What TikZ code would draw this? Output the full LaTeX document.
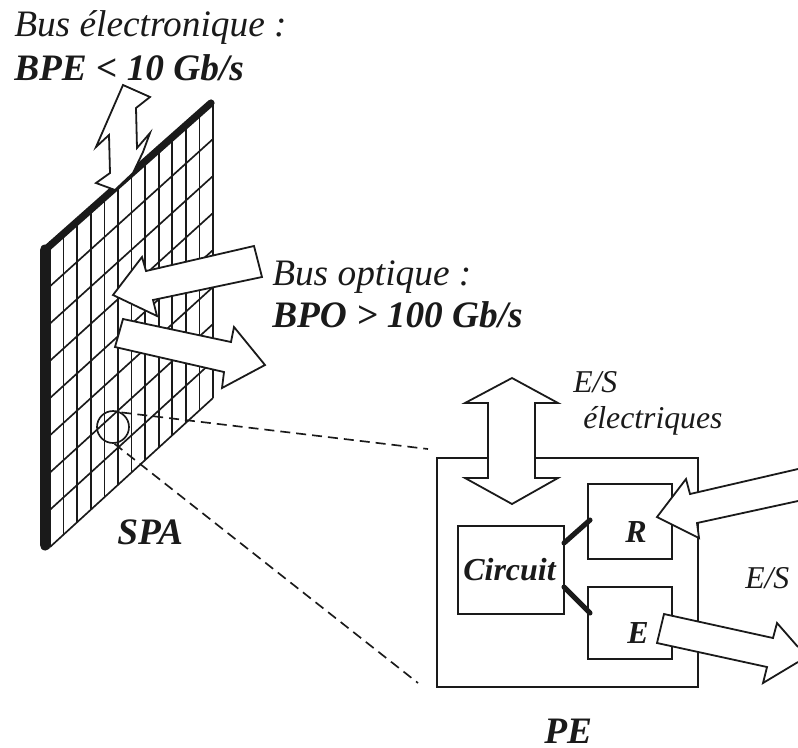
\documentclass[tikz,border=0pt]{standalone}
\usepackage{fontspec}
\setmainfont{Liberation Serif}
\definecolor{ink}{HTML}{1A1A1A}
\newcommand{\pxu}{0.75pt}
\tikzset{
  x=0.75pt,y=-0.75pt,
  every path/.style={color=ink},
  grid line/.style={draw=ink,line width=1.25pt},
  block/.style={draw=ink,line width=1.35pt,fill=white,inner sep=0pt},
  fat arrow/.style={draw=ink,line width=1.35pt,fill=white,line join=miter},
  link/.style={draw=ink,line width=3.8pt,line cap=round},
  zoom line/.style={draw=ink,line width=1.25pt,dash pattern=on 7.5pt off 4.5pt},
  lab/.style={inner sep=0pt,anchor=base west,text=ink,font=\fontsize{28}{28}\selectfont\itshape},
  blab/.style={inner sep=0pt,anchor=base west,text=ink,font=\fontsize{28}{28}\selectfont\itshape\bfseries},
  small lab/.style={inner sep=0pt,anchor=base west,text=ink,font=\fontsize{23.8}{24}\selectfont\itshape},
  small blab/.style={inner sep=0pt,anchor=base west,text=ink,font=\fontsize{24}{24}\selectfont\itshape\bfseries},
}
\begin{document}
\begin{tikzpicture}
\useasboundingbox (0,0) rectangle (798,747);
% SPA panel grid
\foreach \i in {0,...,12}{
  \pgfmathsetmacro{\xx}{50+\i*163/12}
  \pgfmathsetmacro{\yt}{241-\i*139/12}
  \pgfmathsetmacro{\yb}{547-\i*149/12}
  \draw[grid line] (\xx,\yt) -- (\xx,\yb);
}
\foreach \i in {1,...,8}{
  \pgfmathsetmacro{\yl}{249+\i*37.25}
  \pgfmathsetmacro{\yr}{102+\i*37}
  \draw[grid line] (50,\yl) -- (213,\yr);
}
\draw[draw=ink,line width=5.4pt,line cap=round,line join=round] (211,103) -- (45,250);
\draw[draw=ink,line width=8.25pt,line cap=round] (45,250) -- (45,545);
% zoom circle and PE block
\node[circle,draw=ink,line width=1.25pt,minimum size=32*\pxu,inner sep=0pt] (spot) at (113,427) {};
\node[block,minimum width=261*\pxu,minimum height=229*\pxu] (pe) at (567.5,572.5) {};
\coordinate (dashA) at (428,449);
\coordinate (dashB) at (418,683);
\draw[zoom line] (spot.60) -- (dashA);
\draw[zoom line] (spot.-85) -- (dashB);
% inner blocks
\node[block,minimum width=84*\pxu,minimum height=75*\pxu] (R) at (630,521.5) {};
\node[block,minimum width=84*\pxu,minimum height=72*\pxu] (E) at (630,623) {};
\node[block,minimum width=106*\pxu,minimum height=88*\pxu] (C) at (511,570) {};
\coordinate (cu) at (564,543);
\coordinate (cd) at (564,587);
\coordinate (ru) at (590,520);
\coordinate (ed) at (590,613);
\draw[link] (cu) -- (ru);
\draw[link] (cd) -- (ed);
% fat arrows
\draw[fat arrow] (123,85) -- (150,97) -- (136,108) -- (137,148) -- (150,133) -- (143,152) -- (133,173) -- (115,190) -- (96,183) -- (110,173) -- (109,135) -- (96,147) -- cycle;
\draw[fat arrow] (113,295) -- (142,257) -- (146,271) -- (254,246) -- (262,277) -- (153,300) -- (157,316) -- cycle;
\draw[fat arrow] (123,319) -- (231,342) -- (234,327) -- (265,365) -- (222,388) -- (224,372) -- (115,347) -- cycle;
\draw[fat arrow] (512,378) -- (558,403) -- (535,403) -- (535,478) -- (558,478) -- (512,504) -- (465,478) -- (488,478) -- (488,403) -- (465,403) -- cycle;
\draw[fat arrow] (798,469) -- (690,494) -- (686,479) -- (657,517) -- (699,538) -- (697,523) -- (798,501);
\draw[fat arrow] (798,647) -- (777,623) -- (773,638) -- (664,614) -- (657,643) -- (767,667) -- (763,683) -- (798,662);
% labels
\node[lab] (t1) at (14,36) {Bus électronique :};
\node[blab] (t2) at (14,80) {BPE < 10 Gb/s};
\node[lab] (t3) at (272,285) {Bus optique :};
\node[blab] (t4) at (272,327) {BPO > 100 Gb/s};
\node[blab] (t5) at (117,544) {SPA};
\node[blab] (t6) at (544,743) {PE};
\node[small lab] (t7) at (573,392) {E/S};
\node[small lab] (t8) at (583,428) {électriques};
\node[small lab] (t9) at (745,588) {E/S};
\node[small blab] (t10) at (463,580) {Circuit};
\node[small blab] (t11) at (625,542) {R};
\node[small blab] (t12) at (627,643) {E};
\end{tikzpicture}
\end{document}
